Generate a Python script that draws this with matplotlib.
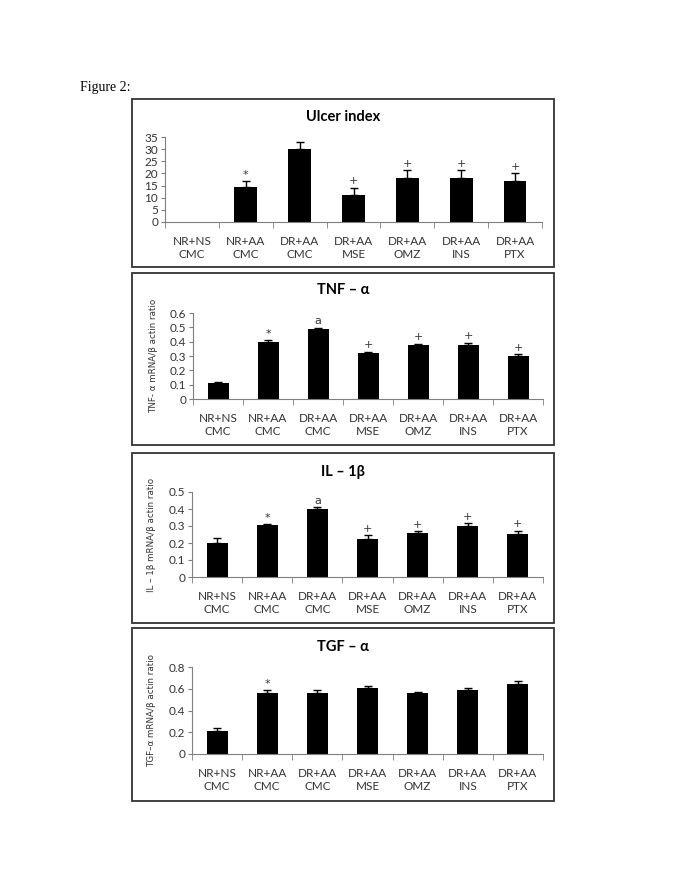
import numpy as np
import matplotlib
import matplotlib.pyplot as plt
from matplotlib.patches import Rectangle

matplotlib.use('Agg')

groups = ["NR+NS\nCMC", "NR+AA\nCMC", "DR+AA\nCMC", "DR+AA\nMSE", "DR+AA\nOMZ", "DR+AA\nINS", "DR+AA\nPTX"]

ulcer = [0, 14.4, 30.0, 11.0, 18.3, 18.3, 16.9]
ulcer_err = [0, 2.4, 3.1, 3.2, 3.0, 3.0, 3.2]
ulcer_mark = ["", "*", "", "+", "+", "+", "+"]

tnf = [0.11, 0.40, 0.49, 0.32, 0.375, 0.38, 0.30]
tnf_err = [0.008, 0.012, 0.008, 0.01, 0.012, 0.014, 0.015]
tnf_mark = ["", "*", "a", "+", "+", "+", "+"]

il1b = [0.20, 0.305, 0.40, 0.225, 0.26, 0.30, 0.255]
il1b_err = [0.028, 0.007, 0.012, 0.02, 0.01, 0.018, 0.018]
il1b_mark = ["", "*", "a", "+", "+", "+", "+"]

tgf = [0.21, 0.56, 0.565, 0.61, 0.56, 0.585, 0.64]
tgf_err = [0.025, 0.025, 0.025, 0.015, 0.01, 0.02, 0.03]
tgf_mark = ["", "*", "", "", "", "", ""]

W, H = 685, 886
fig = plt.figure(figsize=(W / 100, H / 100), dpi=100)

fig.text(80 / W, 1 - 88 / H, "Figure 2:", family="Liberation Serif", fontsize=10, va="center")

sans = ["Lato", "DejaVu Sans"]
gray = "#7f7f7f"


def px_axes(left, right, top, bottom):
    return fig.add_axes([left / W, 1 - bottom / H, (right - left) / W, (bottom - top) / H])


def panel(box, ax_px, vals, errs, marks, ymax, step, title, title_y, ylabel=None, ylabel_x=None):
    bx0, bx1, by0, by1 = box
    fig.patches.append(Rectangle((bx0 / W, 1 - by1 / H), (bx1 - bx0) / W, (by1 - by0) / H,
                                 transform=fig.transFigure, fill=False, ec="#333333", lw=1.3))
    ax = px_axes(*ax_px)
    x = np.arange(len(vals))
    vals = np.array(vals)
    errs = np.array(errs)
    ax.bar(x, vals, width=0.42, color="black", zorder=2)
    keep = errs > 0
    ax.errorbar(x[keep], vals[keep], yerr=[np.zeros(keep.sum()), errs[keep]], fmt="none",
                ecolor="black", elinewidth=1.0, capsize=3, capthick=1.0, zorder=3)
    for xi, v, e, m in zip(x, vals, errs, marks):
        if m:
            ax.text(xi, v + e + ymax * 0.015, m, ha="center", va="bottom", fontsize=8,
                    family="DejaVu Sans", color="#333333")
    ax.set_xlim(-0.5, len(vals) - 0.5)
    ax.set_ylim(0, ymax)
    ticks = np.arange(0, ymax + step / 2, step)
    ax.set_yticks(ticks)
    ax.set_yticklabels(["{:g}".format(round(t, 2)) for t in ticks], family=sans, fontsize=8.5,
                       color="#333333")
    ax.set_xticks(x)
    ax.set_xticklabels(groups, family=sans, fontsize=8.5, color="#333333")
    ax.set_xticks(np.arange(-0.5, len(vals)), minor=True)
    ax.tick_params(axis="x", which="major", length=0, pad=10)
    ax.tick_params(axis="x", which="minor", length=4, color=gray)
    ax.tick_params(axis="y", length=3, color=gray, pad=2)
    for s in ["top", "right"]:
        ax.spines[s].set_visible(False)
    for s in ["left", "bottom"]:
        ax.spines[s].set_color(gray)
    ax.patch.set_visible(False)
    fig.text(343 / W, 1 - title_y / H, title, ha="center", va="center", fontsize=10.5,
             fontweight="bold", family=sans)
    if ylabel:
        cy = (ax_px[2] + ax_px[3]) / 2
        fig.text(ylabel_x / W, 1 - cy / H, ylabel, rotation=90, ha="center", va="center",
                 fontsize=6.3, family="DejaVu Sans", color="#333333")
    return ax


panel((132, 554, 99, 267), (165, 542, 137, 222), ulcer, ulcer_err, ulcer_mark, 35, 5,
      "Ulcer index", 117)
panel((132, 554, 273, 445), (193, 543, 313, 399), tnf, tnf_err, tnf_mark, 0.6, 0.1,
      "TNF – α", 290, "TNF- α mRNA/β actin ratio", 154)
panel((132, 554, 453, 623), (192, 543, 492, 577), il1b, il1b_err, il1b_mark, 0.5, 0.1,
      "IL – 1β", 472, "IL – 1β mRNA/β actin ratio", 152)
panel((132, 554, 628, 801), (192, 543, 667, 754), tgf, tgf_err, tgf_mark, 0.8, 0.2,
      "TGF – α", 647, "TGF–α mRNA/β actin ratio", 152)

fig.savefig("out.png", dpi=100)
